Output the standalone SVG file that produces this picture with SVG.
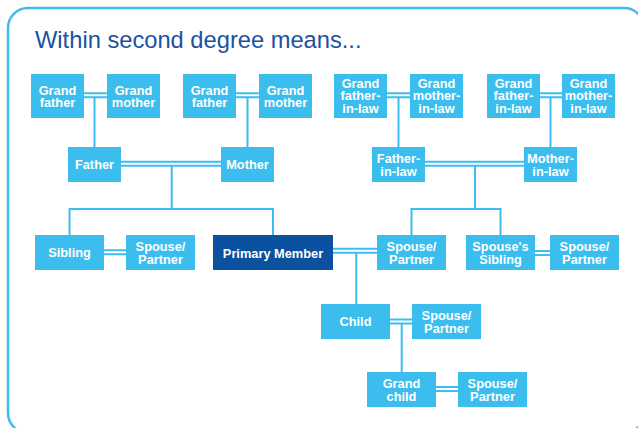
<svg xmlns="http://www.w3.org/2000/svg" width="638" height="428" viewBox="0 0 638 428">
<style>
.box{fill:#3bbdee}
.pm{fill:#0b51a0}
.t{font-family:"Liberation Sans",Arial,sans-serif;font-size:12.8px;font-weight:bold;fill:#ffffff;text-anchor:middle}
.ln{stroke:#3bbdee;stroke-width:2;fill:none}
.title{font-family:"Liberation Sans",Arial,sans-serif;font-size:23.7px;fill:#1b52a2}
</style>
<rect width="638" height="428" fill="#ffffff"/>
<rect x="8" y="8" width="636" height="425" rx="20" ry="20" fill="none" stroke="#3bbdee" stroke-width="2.5"/>
<text class="title" x="35" y="48">Within second degree means...</text>

<g id="connectors">
  <path class="ln" d="M84 93.2H107M84 97.2H107M94.5 97.2V147"/>
  <path class="ln" d="M236 93.2H259M236 97.2H259M247.5 97.2V147"/>
  <path class="ln" d="M387 93.2H410M387 97.2H410M398.5 97.2V147"/>
  <path class="ln" d="M540 93.2H562M540 97.2H562M550.5 97.2V147"/>
  <path class="ln" d="M121 161.8H221M121 165.8H221M171.7 165.8V209M69.5 235V209H273V235"/>
  <path class="ln" d="M425 161.8H524M425 165.8H524M475 165.8V209M411.5 235V209H500.5V235"/>
  <path class="ln" d="M104 250.3H126M104 254.3H126"/>
  <path class="ln" d="M333 248.7H377M333 252.7H377M356.3 252.7V304"/>
  <path class="ln" d="M535 251H550M535 255H550"/>
  <path class="ln" d="M390 319.5H412M390 323.5H412M401.7 323.5V372"/>
  <path class="ln" d="M436 387H458M436 391H458"/>
</g>

<g id="grandfather1"><rect class="box" x="31" y="74" width="53" height="44"/><text class="t" x="57.5" y="94.5">Grand</text><text class="t" x="57.5" y="107">father</text></g>
<g id="grandmother1"><rect class="box" x="107" y="74" width="53" height="44"/><text class="t" x="133.5" y="94.5">Grand</text><text class="t" x="133.5" y="107">mother</text></g>
<g id="grandfather2"><rect class="box" x="183" y="74" width="53" height="44"/><text class="t" x="209.5" y="94.5">Grand</text><text class="t" x="209.5" y="107">father</text></g>
<g id="grandmother2"><rect class="box" x="259" y="74" width="53" height="44"/><text class="t" x="285.5" y="94.5">Grand</text><text class="t" x="285.5" y="107">mother</text></g>

<g id="grandfatherinlaw1"><rect class="box" x="334" y="74" width="53" height="44"/><text class="t" x="360.5" y="87.5">Grand</text><text class="t" x="360.5" y="100">father-</text><text class="t" x="360.5" y="112.5">in-law</text></g>
<g id="grandmotherinlaw1"><rect class="box" x="410" y="74" width="53" height="44"/><text class="t" x="436.5" y="87.5">Grand</text><text class="t" x="436.5" y="100">mother-</text><text class="t" x="436.5" y="112.5">in-law</text></g>
<g id="grandfatherinlaw2"><rect class="box" x="487" y="74" width="53" height="44"/><text class="t" x="513.5" y="87.5">Grand</text><text class="t" x="513.5" y="100">father-</text><text class="t" x="513.5" y="112.5">in-law</text></g>
<g id="grandmotherinlaw2"><rect class="box" x="562" y="74" width="53" height="44"/><text class="t" x="588.5" y="87.5">Grand</text><text class="t" x="588.5" y="100">mother-</text><text class="t" x="588.5" y="112.5">in-law</text></g>

<g id="father"><rect class="box" x="68" y="147" width="53" height="35"/><text class="t" x="94.5" y="169">Father</text></g>
<g id="mother"><rect class="box" x="221" y="147" width="53" height="35"/><text class="t" x="247.5" y="169">Mother</text></g>
<g id="fatherinlaw"><rect class="box" x="372" y="147" width="53" height="35"/><text class="t" x="398.5" y="163">Father-</text><text class="t" x="398.5" y="175.5">in-law</text></g>
<g id="motherinlaw"><rect class="box" x="524" y="147" width="53" height="35"/><text class="t" x="550.5" y="163">Mother-</text><text class="t" x="550.5" y="175.5">in-law</text></g>

<g id="sibling"><rect class="box" x="35" y="235" width="69" height="35"/><text class="t" x="69.5" y="257">Sibling</text></g>
<g id="siblingspouse"><rect class="box" x="126" y="235" width="69" height="35"/><text class="t" x="160.5" y="251">Spouse/</text><text class="t" x="160.5" y="263.5">Partner</text></g>
<g id="primary"><rect class="pm" x="213" y="235" width="120" height="35"/><text class="t" x="273" y="257.5">Primary Member</text></g>
<g id="spouse"><rect class="box" x="377" y="235" width="69" height="35"/><text class="t" x="411.5" y="251">Spouse/</text><text class="t" x="411.5" y="263.5">Partner</text></g>
<g id="spousesibling"><rect class="box" x="466" y="235" width="69" height="35"/><text class="t" x="500.5" y="251">Spouse's</text><text class="t" x="500.5" y="263.5">Sibling</text></g>
<g id="spousesiblingspouse"><rect class="box" x="550" y="235" width="69" height="35"/><text class="t" x="584.5" y="251">Spouse/</text><text class="t" x="584.5" y="263.5">Partner</text></g>

<g id="child"><rect class="box" x="321" y="304" width="69" height="35"/><text class="t" x="355.5" y="326">Child</text></g>
<g id="childspouse"><rect class="box" x="412" y="304" width="69" height="35"/><text class="t" x="446.5" y="320">Spouse/</text><text class="t" x="446.5" y="332.5">Partner</text></g>
<g id="grandchild"><rect class="box" x="367" y="372" width="69" height="35"/><text class="t" x="401.5" y="388">Grand</text><text class="t" x="401.5" y="400.5">child</text></g>
<g id="grandchildspouse"><rect class="box" x="458" y="372" width="69" height="35"/><text class="t" x="492.5" y="388">Spouse/</text><text class="t" x="492.5" y="400.5">Partner</text></g>
</svg>
